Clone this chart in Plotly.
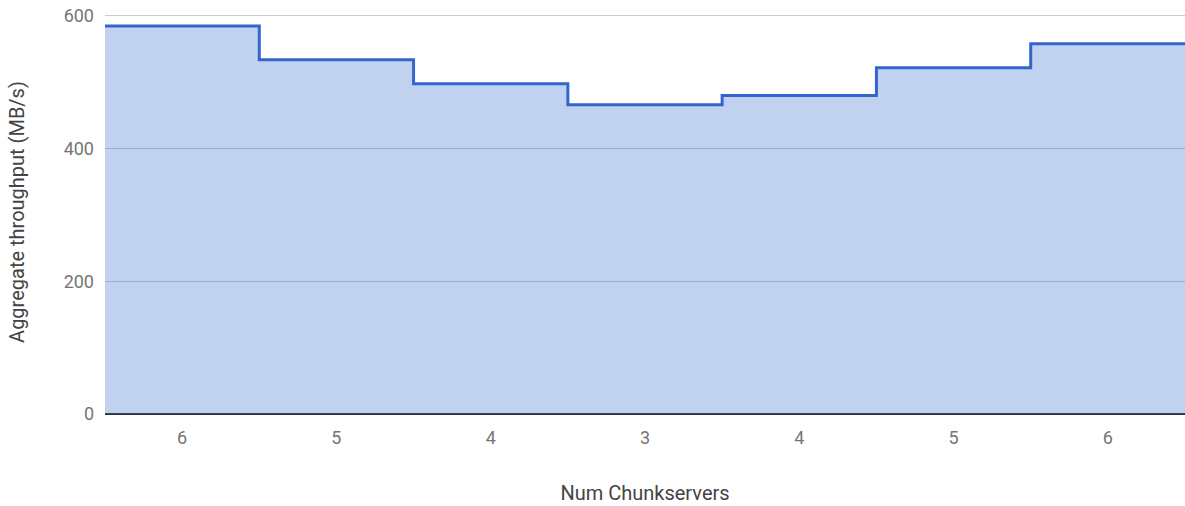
import plotly.graph_objects as go

categories = ["6", "5", "4", "3", "4", "5", "6"]
throughput = [585, 534, 498, 466, 480, 522, 558]

n = len(categories)
x_edges = [i - 0.5 for i in range(n)] + [n - 0.5]
y_edges = throughput + [throughput[-1]]

fig = go.Figure()
fig.add_trace(go.Scatter(
    x=x_edges, y=y_edges, mode="lines", line_shape="hv",
    line=dict(color="#3366cc", width=3),
    fill="tozeroy", fillcolor="rgba(51,102,204,0.3)",
    cliponaxis=False, hoverinfo="skip",
))

fig.update_layout(
    width=1185, height=506,
    margin=dict(l=105, r=0, t=10, b=92),
    paper_bgcolor="white", plot_bgcolor="white",
    font=dict(family="Roboto, Arial, sans-serif", size=18, color="#757575"),
    showlegend=False,
    xaxis=dict(
        range=[-0.5, n - 0.5], tickvals=list(range(n)), ticktext=categories,
        showgrid=False, zeroline=False, showline=False, ticks="",
        ticklabelstandoff=11,
        title=dict(text="Num Chunkservers", font=dict(size=20, color="#444444"), standoff=38),
        automargin=False,
    ),
    yaxis=dict(
        range=[0, 609], tickvals=[0, 200, 400, 600],
        showgrid=True, gridcolor="#cccccc", gridwidth=1,
        zeroline=True, zerolinecolor="#333333", zerolinewidth=1.5,
        showline=False, ticks="", ticklabelstandoff=10,
        title=dict(text="Aggregate throughput (MB/s)", font=dict(size=20, color="#444444"), standoff=33),
        automargin=False,
    ),
)

fig.write_html("out.html", config={"displayModeBar": False},
               post_script="document.body.style.margin='0px';")
